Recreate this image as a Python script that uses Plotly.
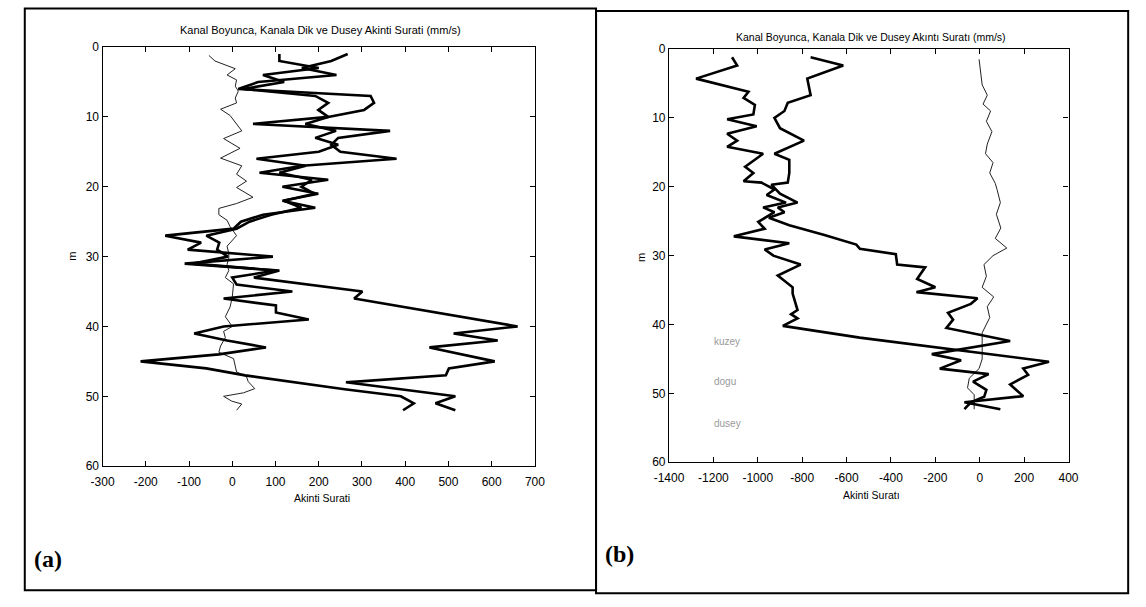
import plotly.graph_objects as go

W, H = 1146, 607

# ---------------- Panel (a) data ----------------
a_depth = list(range(1, 53))
a_line1 = [267, 229, 161, 241, 60, 14, 320, 328, 305, 222, 48, 365, 245, 229, 250, 380,
           162, 63, 222, 116, 199, 116, 192, 71, 20, 3, -155, -72, -103, 94, -110, 109,
           50, 177, 301, 282, 375, 470, 565, 660, 512, 614, 456, 530, 607, 501, 494, 263,
           390, 516, 470, 516]
a_line2 = [109, 109, 200, 71, 120, 26, 192, 222, 199, 222, 169, 240, 192, 245, 200, 56,
           170, 109, 184, 160, 190, 120, 160, 90, 40, 10, -60, -30, -35, -10, -90, 100,
           0, 10, 139, -20, 101, 101, 177, -20, -88, -12, 78, -31, -212, -60, 30, 140,
           260, 390, 420, 395]
a_thin_depth = [1.2, 2.0, 3.1, 4.0, 4.7, 5.6, 6.3, 7.3, 8.0, 8.9, 9.8, 10.8, 12.0, 13.1,
                14.5, 15.9, 17.0, 18.2, 19.2, 20.1, 21.5, 22.4, 23.1, 24.0, 24.8, 25.7,
                27.0, 28.5, 29.6, 30.2, 31.1, 32.0, 33.0, 33.9, 35.8, 37.2, 38.6, 40.0,
                40.7, 41.6, 42.8, 43.7, 44.6, 46.5, 47.2, 47.9, 48.9, 49.5, 50.0, 50.7,
                51.1, 52.0]
a_thin = [-54, -40, 7, -12, 10, 7, 14, 7, 10, -27, -5, 7, 22, -20, 18, -27, 22, 10, 33,
          10, 48, 10, -31, -31, -12, -5, 10, -12, -8, -8, -12, -8, -16, 3, 0, -5, -16, 0,
          -20, -16, -27, -31, 3, 10, 33, 37, 52, 26, -20, -1, 22, 10]

# ---------------- Panel (b) data ----------------
b_left_depth = [1.2, 2.4, 4.3, 6.2, 7.1, 8.1, 9.5, 10.2, 11.2, 12.3, 13.3, 14.2, 15.2,
                17.1, 18.0, 19.2, 19.4, 20.4, 21.2, 22.3, 23.0, 23.7, 25.1, 26.1, 27.2,
                28.2, 29.1, 30.0, 31.3, 32.9, 34.6, 35.5, 37.9, 38.5, 39.1, 40.2, 41.9,
                45.4, 46.4, 47.3, 48.7, 50.4, 51.3, 52.3]
b_left = [-1116, -1093, -1278, -1042, -1064, -1013, -1020, -1138, -1005, -1138, -1093,
          -1138, -976, -1057, -1020, -1064, -983, -925, -960, -873, -976, -925, -998,
          -969, -1108, -858, -969, -930, -807, -910, -843, -843, -821, -850, -821, -887,
          -541, 312, 196, 218, 137, 196, -69, 93]
b_right_depth = [1.2, 2.4, 4.3, 6.7, 7.8, 9.0, 10.0, 11.5, 13.3, 15.2, 16.1, 18.0, 19.4,
                 19.7, 21.0, 22.3, 23.0, 23.7, 24.5, 25.6, 27.0, 28.4, 29.0, 29.8, 31.3,
                 31.7, 33.4, 34.6, 35.3, 36.2, 37.0, 38.3, 39.3, 40.5, 42.4, 44.3, 45.2,
                 46.4, 47.2, 48.3, 49.5, 50.5, 51.3, 52.3]
b_right = [-762, -615, -777, -762, -865, -880, -925, -900, -792, -925, -858, -858, -865,
           -939, -900, -821, -910, -880, -950, -858, -700, -556, -540, -378, -372, -246,
           -282, -200, -285, -10, -40, -143, -120, -150, 137, -216, -84, -180, 40, -30,
           30, 20, -40, -69]
b_thin_depth = [1.5, 3.4, 5.2, 6.7, 8.0, 9.0, 10.5, 12.0, 13.8, 15.2, 16.5, 18.0, 19.5,
                20.4, 22.3, 24.0, 26.0, 27.5, 28.9, 30.0, 31.3, 33.0, 34.6, 36.0, 37.4,
                39.0, 41.2, 43.1, 45.0, 46.4, 47.8, 49.2, 50.2, 51.6, 52.3]
b_thin = [-3, 4, 11, 34, 15, 49, 30, 55, 34, 26, 60, 45, 70, 78, 93, 75, 95, 70, 122, 60,
          19, 30, 11, 63, 34, 45, 11, 11, 11, -3, -47, -55, -25, -25, -25]

# ---------------- Tick labels ----------------
a_xticks = [-300, -200, -100, 0, 100, 200, 300, 400, 500, 600, 700]
a_xticktext = ["-300", "-200", "-100", "0", "100", "200", "300", "400", "500", "600", "700"]
b_xticks = [-1400, -1200, -1000, -800, -600, -400, -200, 0, 200, 400]
b_xticktext = ["-1400", "-1200", "-1000", "-800", "-600", "-400", "-200", "0", "200", "400"]
yticks = [0, 10, 20, 30, 40, 50, 60]
yticktext = ["0", "10", "20", "30", "40", "50", "60"]

title_a = "Kanal Boyunca, Kanala Dik ve Dusey Akinti Surati (mm/s)"
title_b = "Kanal Boyunca, Kanala Dik ve Dusey Akıntı Suratı (mm/s)"
xlabel_a = "Akinti Surati"
xlabel_b = "Akinti Suratı"
legend_b = ["kuzey", "dogu", "dusey"]

fig = go.Figure()
THICK = dict(color="black", width=2.6)
THIN = dict(color="#222222", width=1)

fig.add_trace(go.Scatter(x=a_thin, y=a_thin_depth, mode="lines", line=THIN, xaxis="x", yaxis="y"))
fig.add_trace(go.Scatter(x=a_line1, y=a_depth, mode="lines", line=THICK, xaxis="x", yaxis="y"))
fig.add_trace(go.Scatter(x=a_line2, y=a_depth, mode="lines", line=THICK, xaxis="x", yaxis="y"))

fig.add_trace(go.Scatter(x=b_thin, y=b_thin_depth, mode="lines", line=THIN, xaxis="x2", yaxis="y2"))
fig.add_trace(go.Scatter(x=b_left, y=b_left_depth, mode="lines", line=THICK, xaxis="x2", yaxis="y2"))
fig.add_trace(go.Scatter(x=b_right, y=b_right_depth, mode="lines", line=THICK, xaxis="x2", yaxis="y2"))

TICKFONT = dict(family="Liberation Sans Narrow, Liberation Sans, Arial, sans-serif", size=12, color="black")
axis_common = dict(showline=True, linecolor="black", linewidth=1.2, mirror="ticks",
                   ticks="inside", ticklen=5, tickcolor="black", showgrid=False,
                   zeroline=False, tickfont=TICKFONT, fixedrange=True, tickmode="array")

def px_x(p):
    return p / W

def px_y(p):
    return 1 - p / H

fig.update_layout(
    width=W, height=H, margin=dict(l=0, r=0, t=0, b=0),
    paper_bgcolor="white", plot_bgcolor="white", showlegend=False,
    xaxis=dict(domain=[px_x(89.5), px_x(531.5)], range=[-300, 700],
               tickvals=a_xticks, ticktext=a_xticktext, ticklabelstandoff=4,
               anchor="y", **axis_common),
    yaxis=dict(domain=[px_y(470), px_y(41)], range=[60, 0],
               tickvals=yticks, ticktext=yticktext,
               anchor="x", **axis_common),
    xaxis2=dict(domain=[px_x(668.6), px_x(1077)], range=[-1400, 400],
                tickvals=b_xticks, ticktext=b_xticktext, ticklabelstandoff=4,
                anchor="y2", **axis_common),
    yaxis2=dict(domain=[px_y(466), px_y(43)], range=[60, 0],
                tickvals=yticks, ticktext=yticktext,
                anchor="x2", **axis_common),
)

# frames
fig.add_shape(type="rect", xref="paper", yref="paper",
              x0=px_x(10), x1=px_x(594), y0=px_y(597), y1=px_y(1.5),
              line=dict(color="black", width=2))
fig.add_shape(type="rect", xref="paper", yref="paper",
              x0=px_x(594), x1=px_x(1138), y0=px_y(600), y1=px_y(4),
              line=dict(color="black", width=2))

LABFONT = dict(family="Liberation Sans, Arial, sans-serif", size=11, color="black")
ann = []
ann.append(dict(text=title_a, x=px_x(312), y=px_y(24), font=LABFONT))
ann.append(dict(text=title_b, x=px_x(875), y=px_y(31), font=dict(LABFONT, size=10.5)))
ann.append(dict(text=xlabel_a, x=px_x(314), y=px_y(503), font=dict(LABFONT, size=10.5)))
ann.append(dict(text=xlabel_b, x=px_x(876), y=px_y(500), font=dict(LABFONT, size=10.5)))
ann.append(dict(text="m", x=px_x(58), y=px_y(255), textangle=-90, font=dict(LABFONT, size=11)))
ann.append(dict(text="m", x=px_x(640), y=px_y(257), textangle=-90, font=dict(LABFONT, size=11)))
ann.append(dict(text="<b>(a)</b>", x=px_x(34), y=px_y(565),
                font=dict(family="Liberation Serif, DejaVu Serif, serif", size=24, color="black")))
ann.append(dict(text="<b>(b)</b>", x=px_x(618), y=px_y(560),
                font=dict(family="Liberation Serif, DejaVu Serif, serif", size=24, color="black")))
for name, ypix in zip(legend_b, [342, 383, 426]):
    ann.append(dict(text=name, x=px_x(713), y=px_y(ypix), xanchor="left",
                    font=dict(family="Liberation Sans, Arial, sans-serif", size=10, color="#9a9a9a")))
for a in ann:
    a.setdefault("xanchor", "center")
    a.update(xref="paper", yref="paper", showarrow=False, yanchor="middle")
    fig.add_annotation(**a)

fig.write_html("out.html")
